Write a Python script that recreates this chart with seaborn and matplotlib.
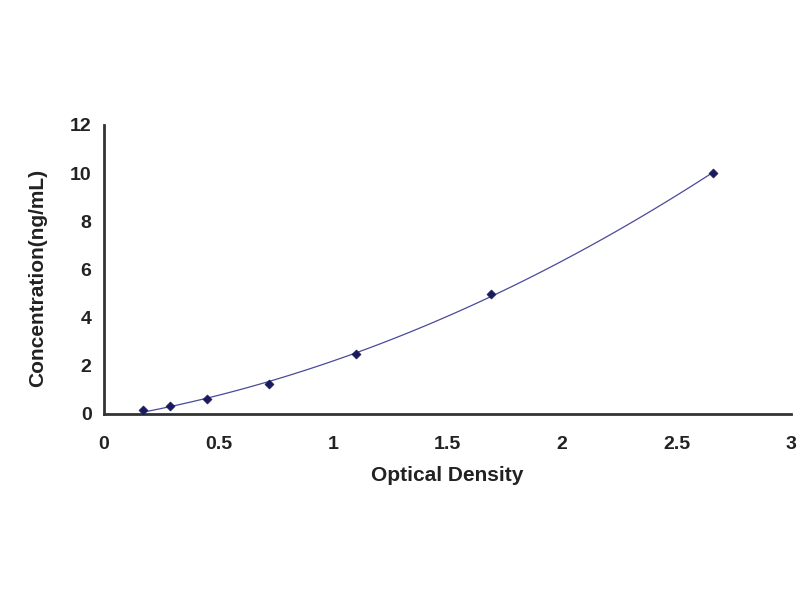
import seaborn as sns
import matplotlib.pyplot as plt
import pandas as pd

# standard curve readings
od = [0.17, 0.29, 0.45, 0.72, 1.10, 1.69, 2.66]
conc = [0.156, 0.313, 0.625, 1.25, 2.5, 5.0, 10.0]

xticks = [0, 0.5, 1, 1.5, 2, 2.5, 3]
xtick_labels = ["0", "0.5", "1", "1.5", "2", "2.5", "3"]
yticks = [0, 2, 4, 6, 8, 10, 12]

df = pd.DataFrame({"od": od, "conc": conc})

sns.set_style("white")
plt.rcParams["font.family"] = ["Liberation Sans", "DejaVu Sans"]
plt.rcParams["font.weight"] = "bold"

fig = plt.figure(figsize=(8, 6), dpi=100)
ax = fig.add_axes([0.13, 0.31, 0.859, 0.482])

# fitted curve (2nd order polynomial)
sns.regplot(data=df, x="od", y="conc", order=2, ci=None, truncate=True,
            scatter=False, ax=ax,
            line_kws={"color": "#4a4a9a", "linewidth": 0.9})
sns.scatterplot(data=df, x="od", y="conc", marker="D", s=22,
                color="#1a1a5e", edgecolor="#1a1a5e", ax=ax, zorder=3)

ax.set_xlim(0, 3)
ax.set_ylim(0, 12)
ax.set_xticks(xticks)
ax.set_xticklabels(xtick_labels)
ax.set_yticks(yticks)
ax.tick_params(axis="both", direction="in", length=6, width=1.5,
               labelsize=14, colors="#222222")
ax.tick_params(axis="x", pad=16)
ax.tick_params(axis="y", pad=9)
for lab in ax.get_xticklabels() + ax.get_yticklabels():
    lab.set_fontweight("bold")

ax.set_xlabel("Optical Density", fontsize=15, fontweight="bold",
              color="#222222", labelpad=9)
ax.set_ylabel("Concentration(ng/mL)", fontsize=15, fontweight="bold",
              color="#222222")
ax.yaxis.set_label_coords(-0.083, 0.47)

for side in ["top", "right"]:
    ax.spines[side].set_visible(False)
for side in ["left", "bottom"]:
    ax.spines[side].set_color("#333333")
    ax.spines[side].set_linewidth(2)

fig.savefig("out.png", dpi=100)
